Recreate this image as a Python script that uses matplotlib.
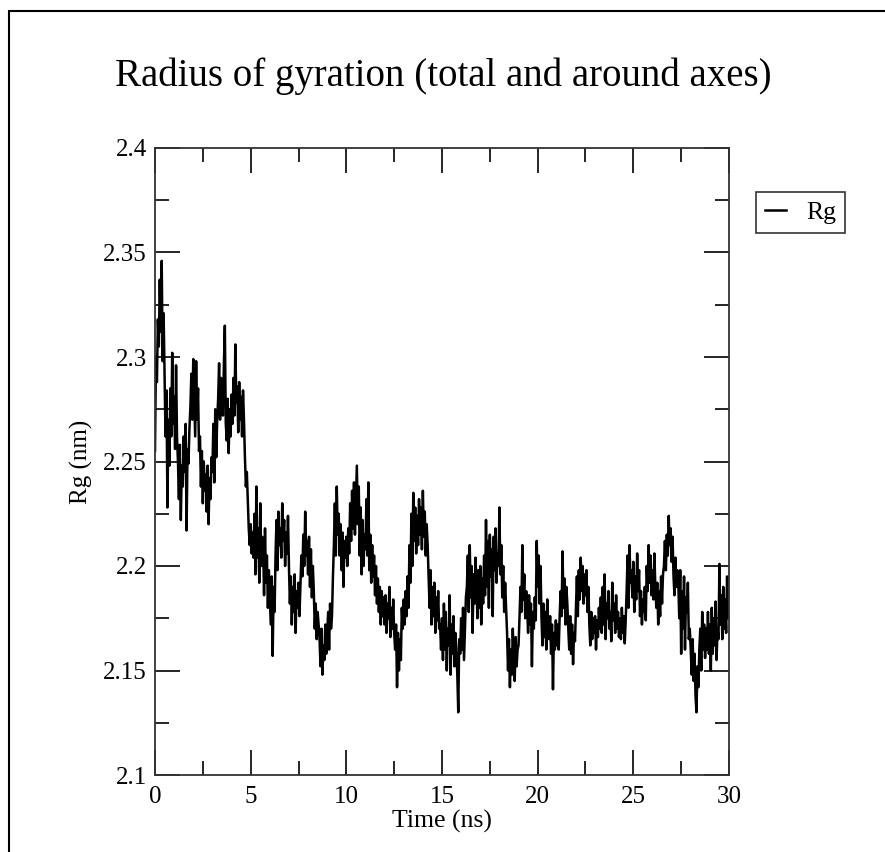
import numpy as np
import matplotlib
matplotlib.use("Agg")
import matplotlib.pyplot as plt
from matplotlib.patches import Rectangle

plt.rcParams['font.family'] = ['Liberation Serif', 'DejaVu Serif']

title = "Radius of gyration (total and around axes)"
xlabel = "Time (ns)"
ylabel = "Rg (nm)"
series_label = "Rg"

x_ticks = [0, 5, 10, 15, 20, 25, 30]
y_ticks = [2.1, 2.15, 2.2, 2.25, 2.3, 2.35, 2.4]
y_tick_labels = ["2.1", "2.15", "2.2", "2.25", "2.3", "2.35", "2.4"]

t_start, t_end = 0.0, 30.0

rg = [
    # 0-1 ns
    2.255, 2.300, 2.288, 2.318, 2.305, 2.337, 2.312, 2.346, 2.298, 2.321,
    2.290, 2.262, 2.284, 2.228, 2.270, 2.248, 2.285, 2.262, 2.302, 2.268,
    # 1-2
    2.281, 2.256, 2.296, 2.262, 2.250, 2.232, 2.258, 2.222, 2.248, 2.238,
    2.262, 2.245, 2.268, 2.217, 2.256, 2.249, 2.266, 2.276, 2.292, 2.270,
    # 2-3
    2.299, 2.280, 2.262, 2.298, 2.270, 2.285, 2.255, 2.262, 2.238, 2.255,
    2.230, 2.250, 2.236, 2.244, 2.226, 2.248, 2.220, 2.242, 2.232, 2.252,
    # 3-4
    2.245, 2.268, 2.240, 2.275, 2.252, 2.270, 2.280, 2.297, 2.270, 2.290,
    2.285, 2.272, 2.296, 2.315, 2.268, 2.260, 2.280, 2.254, 2.275, 2.262,
    # 4-5
    2.282, 2.268, 2.290, 2.272, 2.306, 2.278, 2.286, 2.264, 2.288, 2.270,
    2.281, 2.262, 2.284, 2.270, 2.252, 2.238, 2.245, 2.232, 2.218, 2.210,
    # 5-6
    2.220, 2.206, 2.216, 2.204, 2.225, 2.196, 2.238, 2.204, 2.218, 2.192,
    2.230, 2.200, 2.214, 2.210, 2.186, 2.218, 2.192, 2.205, 2.180, 2.198,
    # 6-7
    2.185, 2.172, 2.195, 2.157, 2.190, 2.178, 2.205, 2.222, 2.198, 2.226,
    2.210, 2.218, 2.204, 2.230, 2.212, 2.222, 2.200, 2.216, 2.206, 2.224,
    # 7-8
    2.200, 2.182, 2.195, 2.172, 2.190, 2.178, 2.196, 2.168, 2.188, 2.180,
    2.192, 2.176, 2.190, 2.205, 2.195, 2.215, 2.200, 2.226, 2.205, 2.212,
    # 8-9
    2.196, 2.214, 2.190, 2.208, 2.185, 2.200, 2.188, 2.170, 2.182, 2.165,
    2.178, 2.172, 2.165, 2.152, 2.170, 2.148, 2.162, 2.155, 2.172, 2.158,
    # 9-10
    2.168, 2.178, 2.160, 2.182, 2.170, 2.176, 2.195, 2.210, 2.230, 2.205,
    2.238, 2.215, 2.225, 2.205, 2.220, 2.198, 2.216, 2.190, 2.212, 2.204,
    # 10-11
    2.214, 2.200, 2.218, 2.206, 2.230, 2.212, 2.236, 2.218, 2.240, 2.215,
    2.232, 2.248, 2.220, 2.238, 2.205, 2.228, 2.196, 2.222, 2.200, 2.215,
    # 11-12
    2.208, 2.232, 2.205, 2.240, 2.198, 2.215, 2.192, 2.210, 2.195, 2.205,
    2.186, 2.200, 2.182, 2.194, 2.178, 2.190, 2.172, 2.188, 2.176, 2.185,
    # 12-13
    2.172, 2.186, 2.168, 2.182, 2.175, 2.190, 2.166, 2.180, 2.170, 2.184,
    2.168, 2.160, 2.172, 2.142, 2.168, 2.150, 2.165, 2.155, 2.180, 2.170,
    # 13-14
    2.184, 2.172, 2.188, 2.176, 2.195, 2.180, 2.210, 2.192, 2.225, 2.200,
    2.235, 2.212, 2.228, 2.206, 2.224, 2.210, 2.232, 2.215, 2.228, 2.208,
    # 14-15
    2.236, 2.214, 2.226, 2.205, 2.220, 2.210, 2.195, 2.180, 2.198, 2.172,
    2.190, 2.176, 2.192, 2.168, 2.185, 2.174, 2.188, 2.170, 2.172, 2.160,
    # 15-16
    2.175, 2.155, 2.182, 2.160, 2.178, 2.150, 2.170, 2.162, 2.186, 2.148,
    2.172, 2.158, 2.176, 2.152, 2.168, 2.160, 2.148, 2.130, 2.165, 2.158,
    # 16-17
    2.175, 2.160, 2.180, 2.155, 2.170, 2.185, 2.190, 2.205, 2.178, 2.210,
    2.185, 2.200, 2.168, 2.196, 2.182, 2.204, 2.192, 2.175, 2.198, 2.180,
    # 17-18
    2.200, 2.172, 2.194, 2.182, 2.205, 2.186, 2.222, 2.190, 2.212, 2.180,
    2.215, 2.195, 2.208, 2.176, 2.214, 2.198, 2.218, 2.192, 2.206, 2.200,
    # 18-19
    2.228, 2.196, 2.210, 2.185, 2.200, 2.178, 2.192, 2.180, 2.168, 2.150,
    2.165, 2.142, 2.160, 2.148, 2.170, 2.155, 2.145, 2.166, 2.152, 2.160,
    # 19-20
    2.162, 2.175, 2.190, 2.178, 2.210, 2.184, 2.196, 2.175, 2.188, 2.180,
    2.168, 2.186, 2.172, 2.182, 2.152, 2.178, 2.170, 2.185, 2.174, 2.212,
    # 20-21
    2.190, 2.205, 2.182, 2.200, 2.175, 2.162, 2.182, 2.166, 2.178, 2.160,
    2.184, 2.170, 2.165, 2.176, 2.158, 2.172, 2.141, 2.168, 2.160, 2.174,
    # 21-22
    2.162, 2.172, 2.160, 2.176, 2.188, 2.176, 2.207, 2.180, 2.194, 2.172,
    2.190, 2.182, 2.170, 2.160, 2.176, 2.158, 2.172, 2.153, 2.168, 2.164,
    # 22-23
    2.180, 2.195, 2.176, 2.198, 2.184, 2.204, 2.188, 2.200, 2.182, 2.196,
    2.186, 2.198, 2.178, 2.190, 2.172, 2.162, 2.178, 2.165, 2.175, 2.168,
    # 23-24
    2.176, 2.160, 2.174, 2.166, 2.180, 2.170, 2.185, 2.168, 2.190, 2.172,
    2.196, 2.165, 2.182, 2.175, 2.188, 2.170, 2.178, 2.164, 2.192, 2.174,
    # 24-25
    2.182, 2.168, 2.186, 2.170, 2.178, 2.166, 2.175, 2.165, 2.180, 2.168,
    2.176, 2.163, 2.174, 2.188, 2.205, 2.180, 2.210, 2.192, 2.198, 2.185,
    # 25-26
    2.202, 2.178, 2.195, 2.184, 2.206, 2.188, 2.198, 2.176, 2.188, 2.172,
    2.184, 2.178, 2.190, 2.174, 2.200, 2.188, 2.210, 2.192, 2.205, 2.186,
    # 26-27
    2.198, 2.184, 2.206, 2.190, 2.180, 2.192, 2.172, 2.188, 2.176, 2.195,
    2.182, 2.196, 2.200, 2.212, 2.198, 2.215, 2.205, 2.224, 2.210, 2.218,
    # 27-28
    2.202, 2.214, 2.195, 2.186, 2.204, 2.190, 2.198, 2.192, 2.175, 2.198,
    2.158, 2.188, 2.170, 2.195, 2.160, 2.185, 2.178, 2.192, 2.165, 2.170,
    # 28-29
    2.160, 2.148, 2.165, 2.145, 2.158, 2.138, 2.130, 2.152, 2.142, 2.160,
    2.170, 2.150, 2.178, 2.160, 2.172, 2.156, 2.170, 2.160, 2.178, 2.158,
    # 29-30
    2.172, 2.150, 2.180, 2.158, 2.175, 2.162, 2.183, 2.155, 2.170, 2.165,
    2.201, 2.172, 2.186, 2.165, 2.190, 2.170, 2.184, 2.168, 2.195, 2.175,
    2.180,
]

time_ns = np.linspace(t_start, t_end, len(rg))

W, H = 885, 852
fig = plt.figure(figsize=(W / 100, H / 100), dpi=100)
fig.patch.set_facecolor('white')

# outer frame (left/top visible)
fig.add_artist(Rectangle((8.5 / W, -0.05), 1.2, 1 - 11 / H + 0.05,
                         transform=fig.transFigure, fill=False,
                         edgecolor='black', linewidth=1.5))

ax = fig.add_axes([155 / W, 1 - 775 / H, (729 - 155) / W, (775 - 148) / H])
ax.plot(time_ns, rg, color='black', linewidth=1.8, label=series_label)

ax.set_xlim(0, 30)
ax.set_ylim(2.1, 2.4)
ax.set_xticks(x_ticks)
ax.set_xticklabels([str(v) for v in x_ticks])
ax.set_yticks(y_ticks)
ax.set_yticklabels(y_tick_labels)
ax.set_xticks(np.arange(2.5, 30, 5), minor=True)
ax.set_yticks(np.arange(2.125, 2.4, 0.05), minor=True)

ax.tick_params(which='both', direction='in', top=True, right=True,
               labelsize=18, width=1.2, colors='black')
ax.tick_params(which='major', length=18)
ax.tick_params(which='minor', length=10)
ax.tick_params(axis='x', which='major', pad=8)
ax.tick_params(axis='y', which='major', pad=6)
for s in ax.spines.values():
    s.set_linewidth(1.3)
    s.set_color('#333333')

ax.set_xlabel(xlabel, fontsize=18.5, labelpad=1)
ax.set_ylabel(ylabel, fontsize=18, labelpad=7)

fig.text(443 / W, 1 - 76 / H, title, fontsize=28, ha='center', va='center')

leg = ax.legend(loc='upper left', bbox_to_anchor=(756 / W, 1 - 192 / H),
                bbox_transform=fig.transFigure, fontsize=18.5, frameon=True,
                fancybox=False, edgecolor='black', handlelength=0.8,
                handletextpad=0.8, borderpad=0.35, borderaxespad=0)
leg.get_frame().set_linewidth(1.2)

fig.savefig('out.png', dpi=100)
